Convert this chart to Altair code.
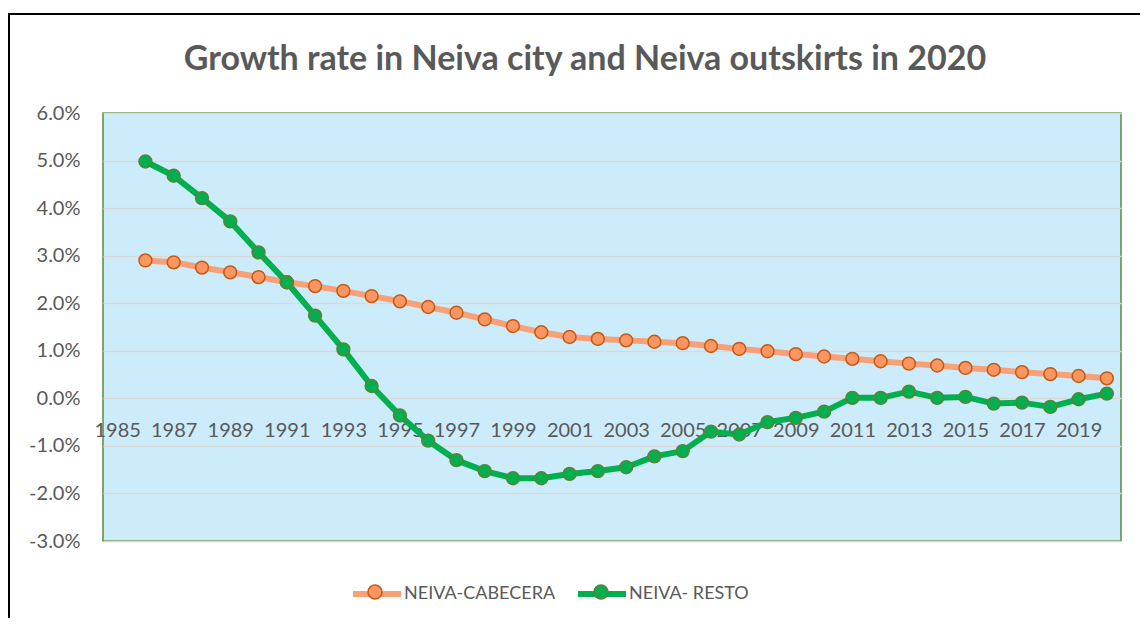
import altair as alt
import pandas as pd

# ---------------- data ----------------
years = list(range(1986, 2021))
cabecera = [2.90, 2.86, 2.75, 2.65, 2.55, 2.44, 2.36, 2.26, 2.15, 2.04,
            1.92, 1.80, 1.66, 1.52, 1.39, 1.29, 1.25, 1.22, 1.19, 1.16,
            1.10, 1.04, 0.99, 0.93, 0.88, 0.83, 0.78, 0.73, 0.69, 0.64,
            0.60, 0.55, 0.51, 0.47, 0.42]
resto = [4.98, 4.68, 4.21, 3.72, 3.07, 2.44, 1.74, 1.03, 0.26, -0.36,
         -0.89, -1.30, -1.53, -1.68, -1.68, -1.59, -1.53, -1.45, -1.22, -1.11,
         -0.70, -0.76, -0.50, -0.41, -0.28, 0.01, 0.01, 0.14, 0.01, 0.03,
         -0.11, -0.09, -0.18, -0.02, 0.10]
series_names = ["NEIVA-CABECERA", "NEIVA- RESTO"]
x_ticks = list(range(1985, 2020, 2))
y_ticks = [-0.03, -0.02, -0.01, 0.0, 0.01, 0.02, 0.03, 0.04, 0.05, 0.06]
title_text = "Growth rate in Neiva city and Neiva outskirts in 2020"

line_colors = ["#F8A078", "#00B050"]
marker_fill = ["#FB9561", "#00B050"]
marker_stroke = ["#C55A11", "#5E8233"]

rows = []
for name, vals in zip(series_names, [cabecera, resto]):
    for yr, v in zip(years, vals):
        rows.append({"year": yr, "rate": v / 100.0, "series": name, "serie": name})
df = pd.DataFrame(rows)

# ---------------- layout ----------------
PLOT_W, PLOT_H = 1018, 428
PAD = {"left": 95, "top": 105, "right": 19, "bottom": 77}
zero_offset = -PLOT_H * 3.0 / 9.0
TXT = "#595959"
FONT = "Lato"

x_enc = alt.X(
    "year:Q",
    scale=alt.Scale(domain=[1984.5, 2020.5], nice=False, zero=False),
    axis=alt.Axis(values=x_ticks, format="d", orient="bottom", offset=zero_offset,
                  domain=False, ticks=False, tickSize=0, grid=False, labelPadding=22,
                  labelFont=FONT, labelFontSize=20, labelColor=TXT, title=None,
                  labelFlush=False, labelOverlap=False),
)
y_enc = alt.Y(
    "rate:Q",
    scale=alt.Scale(domain=[-0.03, 0.06], nice=False, zero=False),
    axis=alt.Axis(values=y_ticks, format=".1%",
                  labelExpr="replace(datum.label, '\u2212', '-')",
                  domain=False, ticks=False, tickSize=0, grid=True,
                  gridColor="#D9D9D9", gridWidth=1.5, labelPadding=23,
                  labelFont=FONT, labelFontSize=20, labelColor=TXT, title=None,
                  labelFlush=False),
)

LABEL_W = 162   # offset that lines the marker legend up with the line legend
COL_PAD = 10
leg_common = dict(orient="none", legendX=247, legendY=454, direction="horizontal",
                  title=None, symbolSize=2304, labelOffset=0,
                  labelFont=FONT, labelFontSize=18, labelColor=TXT, padding=0)

line_leg = alt.Legend(symbolType="M-1,0H1", symbolStrokeWidth=6,
                      columnPadding=COL_PAD, **leg_common)
pt_leg = alt.Legend(symbolType="M-1,0L-1,0M1,0L1,0M0.29,0A0.29,0.29,0,1,1,-0.29,0A0.29,0.29,0,1,1,0.29,0Z",
                    symbolStrokeWidth=1.5, labelExpr="''",
                    columnPadding=COL_PAD + LABEL_W, **leg_common)

base = alt.Chart(df)

lines = base.mark_line(strokeWidth=6, strokeJoin="round", strokeCap="round").encode(
    x=x_enc, y=y_enc,
    color=alt.Color("series:N", scale=alt.Scale(domain=series_names, range=line_colors),
                    legend=line_leg),
)
points = base.mark_point(filled=True, size=165, strokeWidth=1.5, opacity=1).encode(
    x=x_enc, y=y_enc,
    fill=alt.Fill("serie:N", scale=alt.Scale(domain=series_names, range=marker_fill),
                  legend=pt_leg),
    stroke=alt.Stroke("serie:N", scale=alt.Scale(domain=series_names, range=marker_stroke),
                      legend=pt_leg),
)

frame_df = pd.DataFrame({"k": [0]})
frame_top = alt.Chart(frame_df).mark_rule(color="black", strokeWidth=2).encode(
    x=alt.value(-95), x2=alt.value(1045), y=alt.value(-99))
frame_left = alt.Chart(frame_df).mark_rule(color="black", strokeWidth=2).encode(
    x=alt.value(-94), y=alt.value(-100), y2=alt.value(505))

chart = alt.layer(lines, points, frame_top, frame_left).properties(
    width=PLOT_W, height=PLOT_H,
    autosize=alt.AutoSizeParams(type="none"),
    padding=PAD,
    background="white",
    title=alt.TitleParams(text=title_text, font=FONT, fontSize=34, fontWeight="bold",
                          color=TXT, anchor="middle", frame="group", dx=-27, dy=65,
                          offset=0),
).resolve_scale(color="independent", fill="independent", stroke="independent").configure_view(
    fill="#CCECFB", stroke="#5B8C3A", strokeWidth=1.5
)

chart.save("out.html", embed_options={"renderer": "svg", "actions": False})
